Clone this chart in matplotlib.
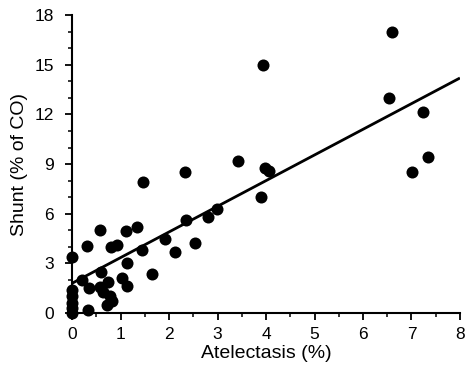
import numpy as np
import matplotlib
matplotlib.use("Agg")
import matplotlib.pyplot as plt
from matplotlib.ticker import MultipleLocator

plt.rcParams['font.family'] = ['Liberation Sans', 'DejaVu Sans']

# ── Data ──────────────────────────────────────────────────────────────────────
atelectasis = [0, 0, 0, 0, 0, 0,
               0.21, 0.31, 0.33, 0.35, 0.57, 0.57, 0.60, 0.64, 0.74, 0.78,
               0.72, 0.82, 0.81, 0.92, 1.02, 1.12, 1.13, 1.11, 1.33, 1.43,
               1.45, 1.65, 1.91, 2.12, 2.32, 2.34, 2.54, 2.80, 2.98, 3.42,
               3.90, 3.94, 3.98, 4.05, 6.54, 6.59, 7.02, 7.24, 7.34]
shunt = [3.4, 1.4, 1.0, 0.6, 0.3, 0.0,
         2.0, 4.05, 0.2, 1.5, 5.0, 1.55, 2.5, 1.25, 1.85, 1.0,
         0.5, 0.7, 4.0, 4.1, 2.1, 3.0, 1.65, 4.95, 5.2, 3.8,
         7.9, 2.35, 4.5, 3.7, 8.5, 5.6, 4.2, 5.8, 6.3, 9.2,
         7.0, 15.0, 8.75, 8.6, 13.0, 17.0, 8.5, 12.15, 9.4]

# regression line
fit_intercept = 1.8
fit_slope = 1.55
fit_x = [0, 8]

# ── Plot ──────────────────────────────────────────────────────────────────────
fig = plt.figure(figsize=(4.66, 3.78), dpi=100)
ax = fig.add_axes([0.155, 0.172, 0.832, 0.788])

ax.scatter(atelectasis, shunt, s=75, color='black', zorder=3, clip_on=False,
           linewidths=0)
fx = np.array(fit_x, dtype=float)
ax.plot(fx, fit_intercept + fit_slope * fx, color='black', linewidth=2.0,
        solid_capstyle='butt')

ax.set_xlim(0, 8)
ax.set_ylim(0, 18)
ax.xaxis.set_major_locator(MultipleLocator(1))
ax.xaxis.set_minor_locator(MultipleLocator(0.5))
ax.yaxis.set_major_locator(MultipleLocator(3))
ax.yaxis.set_minor_locator(MultipleLocator(1))

for side in ('top', 'right'):
    ax.spines[side].set_visible(False)
for side in ('left', 'bottom'):
    ax.spines[side].set_linewidth(1.5)

ax.tick_params(which='major', direction='out', length=5, width=1.3,
               labelsize=12.5)
ax.tick_params(which='minor', direction='out', length=3, width=1.1)
ax.tick_params(axis='y', which='major', pad=8)
ax.tick_params(axis='x', which='major', pad=5)

ax.set_xlabel('Atelectasis (%)', fontsize=14, labelpad=2)
ax.set_ylabel('Shunt (% of CO)', fontsize=14, labelpad=5)

fig.savefig('out.png', dpi=100)
